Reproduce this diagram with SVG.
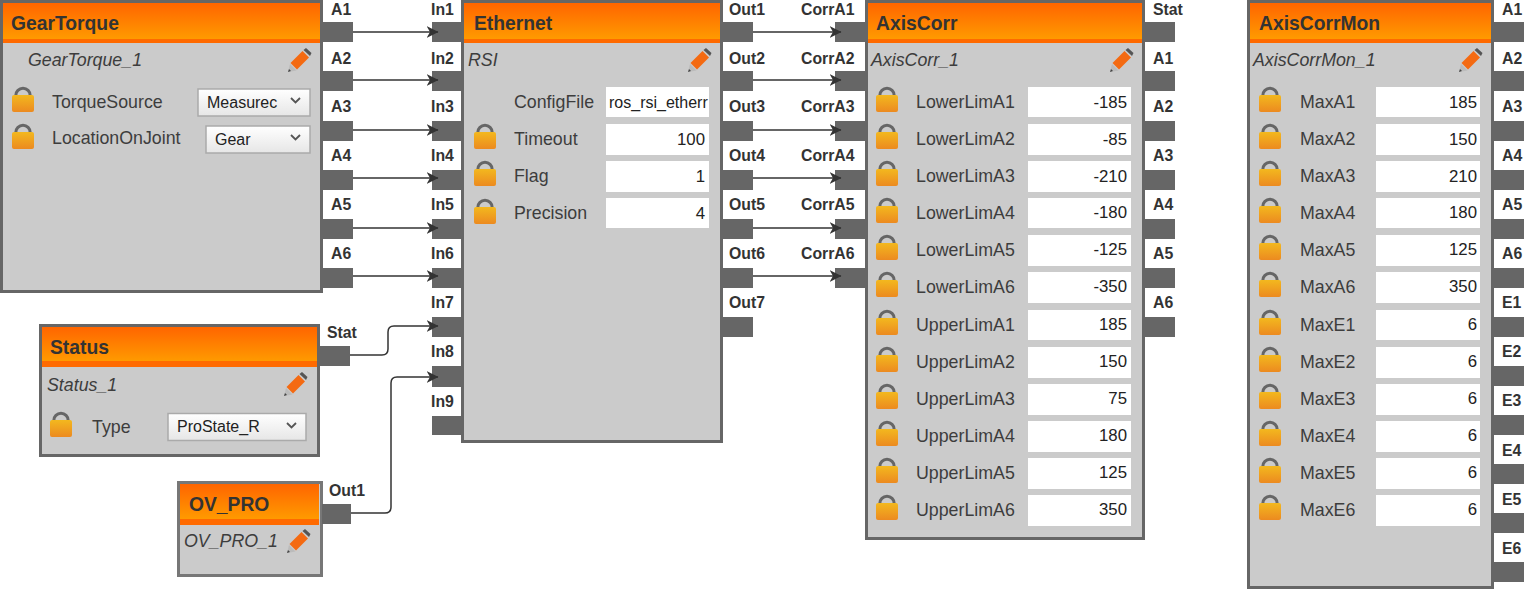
<svg xmlns="http://www.w3.org/2000/svg" xmlns:xlink="http://www.w3.org/1999/xlink" width="1524" height="590" viewBox="0 0 1524 590">
<style>
text{font-family:"Liberation Sans",Arial,sans-serif;fill:#3d3d3d}
.box{fill:#cbcbcb;stroke:#666;stroke-width:3}
.hd{fill:url(#hg)}
.st{fill:#ff6a00}
.t{font-size:19.300px;font-weight:bold;fill:#333}
.i{font-size:17.800px;font-style:italic}
.l{font-size:17.800px}
.v{font-size:16.800px;fill:#222;text-anchor:end}
.d{font-size:16px;fill:#222}
.p{fill:#666}
.pl{font-size:15.800px;font-weight:bold;fill:#333}
.f{fill:#fff}
.sel{fill:url(#sg);stroke:#aaa;stroke-width:1.500}
.c{fill:none;stroke:#333;stroke-width:1.500}
</style>
<defs>
<linearGradient id="hg" x1="0" y1="0" x2="0" y2="1"><stop offset="0" stop-color="#ff6500"/><stop offset="1" stop-color="#ff9a00"/></linearGradient>
<linearGradient id="sg" x1="0" y1="0" x2="0" y2="1"><stop offset="0" stop-color="#fff"/><stop offset="1" stop-color="#e6e6e6"/></linearGradient>
<linearGradient id="lg" x1="0" y1="0" x2="0" y2="1"><stop offset="0" stop-color="#f3b81e"/><stop offset="1" stop-color="#ec8a20"/></linearGradient>
<marker id="ah" viewBox="0 0 12 12" refX="11.500" refY="6" markerWidth="12" markerHeight="12" markerUnits="userSpaceOnUse" orient="auto"><path d="M0 0L12 6L0 12L3.500 6Z" fill="#333"/></marker>
<g id="lock"><path d="M3.800 10V8.500a7.200 7.200 0 0 1 14.400 0V10" fill="none" stroke="#666" stroke-width="3"/><rect x="0" y="8" width="22" height="17" rx="2" fill="url(#lg)"/></g>
<g id="pen"><path d="M4.500 15L16.500 3L23 9.500L11 21.500Z" fill="#f46a12"/><path d="M17.500 2L20 0L25.500 5L24 8Z" fill="#555"/><path d="M4 16L10.500 22.500L2 24Z" fill="#bbb"/><path d="M2 24L3 21L5 23Z" fill="#444"/></g>
<path id="chev" d="M0 0L4.500 4.500L9 0" fill="none" stroke="#555" stroke-width="1.800"/>
</defs>

<g id="GearTorque">
<rect class="box" x="1.500" y="1.500" width="320" height="290"/>
<rect class="hd" x="3" y="3" width="317" height="36"/><rect class="st" x="3" y="39" width="317" height="4"/>
<text class="t" x="11" y="30">GearTorque</text>
<text class="i" x="28" y="66">GearTorque_1</text>
<use xlink:href="#pen" x="286" y="48"/>
<use xlink:href="#lock" x="12" y="87"/><text class="l" x="52" y="108">TorqueSource</text>
<rect class="sel" x="198" y="89" width="112" height="27"/><text class="d" x="207" y="108">Measurec</text><use xlink:href="#chev" x="291" y="98"/>
<use xlink:href="#lock" x="12" y="124"/><text class="l" x="52" y="144">LocationOnJoint</text>
<rect class="sel" x="206" y="126" width="104" height="27"/><text class="d" x="215" y="145">Gear</text><use xlink:href="#chev" x="291" y="135"/>
<g><rect class="p" x="322" y="22" width="31" height="20"/><rect class="p" x="322" y="71" width="31" height="20"/><rect class="p" x="322" y="121" width="31" height="20"/><rect class="p" x="322" y="170" width="31" height="20"/><rect class="p" x="322" y="219" width="31" height="20"/><rect class="p" x="322" y="268" width="31" height="20"/></g>
<text class="pl" x="331" y="15">A1</text><text class="pl" x="331" y="64">A2</text><text class="pl" x="331" y="112">A3</text><text class="pl" x="331" y="161">A4</text><text class="pl" x="331" y="210">A5</text><text class="pl" x="331" y="259">A6</text>
</g>

<g id="Status">
<rect class="box" x="40.500" y="325.500" width="278" height="130"/>
<rect class="hd" x="42" y="327" width="275" height="34"/><rect class="st" x="42" y="361" width="275" height="6"/>
<text class="t" x="50" y="354">Status</text>
<text class="i" x="47" y="391">Status_1</text>
<use xlink:href="#pen" x="282" y="372"/>
<use xlink:href="#lock" x="50" y="412"/><text class="l" x="92" y="433">Type</text>
<rect class="sel" x="168" y="413.500" width="138" height="27"/><text class="d" x="177" y="432">ProState_R</text><use xlink:href="#chev" x="287" y="423"/>
<rect class="p" x="319" y="346" width="31" height="20"/>
<text class="pl" x="327" y="338">Stat</text>
</g>

<g id="OV_PRO">
<rect class="box" x="178.500" y="482.500" width="143" height="93" style="stroke:#777"/>
<rect class="hd" x="180" y="484" width="139" height="35"/><rect class="st" x="180" y="519" width="139" height="6"/>
<text class="t" x="189" y="511">OV_PRO</text>
<text class="i" x="184" y="547">OV_PRO_1</text>
<use xlink:href="#pen" x="285" y="529"/>
<rect class="p" x="322" y="504" width="29" height="20"/>
<text class="pl" x="329" y="496">Out1</text>
</g>

<g id="Ethernet">
<rect class="box" x="462.500" y="1.500" width="259" height="440"/>
<rect class="hd" x="464" y="3" width="256" height="36"/><rect class="st" x="464" y="39" width="256" height="4"/>
<text class="t" x="474" y="30">Ethernet</text>
<text class="i" x="468" y="66">RSI</text>
<use xlink:href="#pen" x="686" y="48"/>
<text class="l" x="514" y="108">ConfigFile</text>
<rect class="f" x="606" y="87" width="103" height="30"/><text class="d" x="609" y="108">ros_rsi_etherr</text>
<use xlink:href="#lock" x="474" y="124"/><text class="l" x="514" y="145">Timeout</text>
<rect class="f" x="606" y="124" width="103" height="31"/><text class="v" x="705" y="145">100</text>
<use xlink:href="#lock" x="474" y="161"/><text class="l" x="514" y="182">Flag</text>
<rect class="f" x="606" y="161" width="103" height="31"/><text class="v" x="705" y="182">1</text>
<use xlink:href="#lock" x="474" y="199"/><text class="l" x="514" y="219">Precision</text>
<rect class="f" x="606" y="198" width="103" height="30"/><text class="v" x="705" y="219">4</text>
<g><rect class="p" x="432" y="22" width="30" height="20"/><rect class="p" x="432" y="71" width="30" height="20"/><rect class="p" x="432" y="121" width="30" height="20"/><rect class="p" x="432" y="170" width="30" height="20"/><rect class="p" x="432" y="219" width="30" height="20"/><rect class="p" x="432" y="268" width="30" height="20"/><rect class="p" x="432" y="317" width="30" height="20"/><rect class="p" x="432" y="366" width="30" height="21"/><rect class="p" x="432" y="416" width="30" height="19"/></g>
<text class="pl" x="431" y="15">In1</text><text class="pl" x="431" y="64">In2</text><text class="pl" x="431" y="112">In3</text><text class="pl" x="431" y="161">In4</text><text class="pl" x="431" y="210">In5</text><text class="pl" x="431" y="259">In6</text><text class="pl" x="431" y="308">In7</text><text class="pl" x="431" y="357">In8</text><text class="pl" x="431" y="407">In9</text>
<g><rect class="p" x="722" y="22" width="31" height="20"/><rect class="p" x="722" y="71" width="31" height="20"/><rect class="p" x="722" y="121" width="31" height="20"/><rect class="p" x="722" y="170" width="31" height="20"/><rect class="p" x="722" y="219" width="31" height="20"/><rect class="p" x="722" y="268" width="31" height="20"/><rect class="p" x="722" y="317" width="31" height="20"/></g>
<text class="pl" x="729" y="15">Out1</text><text class="pl" x="729" y="64">Out2</text><text class="pl" x="729" y="112">Out3</text><text class="pl" x="729" y="161">Out4</text><text class="pl" x="729" y="210">Out5</text><text class="pl" x="729" y="259">Out6</text><text class="pl" x="729" y="308">Out7</text>
</g>

<g id="AxisCorr">
<rect class="box" x="866.500" y="1.500" width="277" height="537"/>
<rect class="hd" x="868" y="3" width="274" height="36"/><rect class="st" x="868" y="39" width="274" height="4"/>
<text class="t" x="876" y="30">AxisCorr</text>
<text class="i" x="871" y="66">AxisCorr_1</text>
<use xlink:href="#pen" x="1108" y="48"/>
<use xlink:href="#lock" x="876" y="87"/><text class="l" x="916" y="108">LowerLimA1</text><rect class="f" x="1028" y="87" width="103" height="30"/><text class="v" x="1127" y="108">-185</text>
<use xlink:href="#lock" x="876" y="124"/><text class="l" x="916" y="145">LowerLimA2</text><rect class="f" x="1028" y="124" width="103" height="31"/><text class="v" x="1127" y="145">-85</text>
<use xlink:href="#lock" x="876" y="161"/><text class="l" x="916" y="182">LowerLimA3</text><rect class="f" x="1028" y="161" width="103" height="31"/><text class="v" x="1127" y="182">-210</text>
<use xlink:href="#lock" x="876" y="198"/><text class="l" x="916" y="219">LowerLimA4</text><rect class="f" x="1028" y="198" width="103" height="30"/><text class="v" x="1127" y="218">-180</text>
<use xlink:href="#lock" x="876" y="235"/><text class="l" x="916" y="256">LowerLimA5</text><rect class="f" x="1028" y="235" width="103" height="31"/><text class="v" x="1127" y="255">-125</text>
<use xlink:href="#lock" x="876" y="272"/><text class="l" x="916" y="293">LowerLimA6</text><rect class="f" x="1028" y="272" width="103" height="31"/><text class="v" x="1127" y="292">-350</text>
<use xlink:href="#lock" x="876" y="310"/><text class="l" x="916" y="331">UpperLimA1</text><rect class="f" x="1028" y="310" width="103" height="30"/><text class="v" x="1127" y="330">185</text>
<use xlink:href="#lock" x="876" y="347"/><text class="l" x="916" y="368">UpperLimA2</text><rect class="f" x="1028" y="347" width="103" height="31"/><text class="v" x="1127" y="367">150</text>
<use xlink:href="#lock" x="876" y="384"/><text class="l" x="916" y="405">UpperLimA3</text><rect class="f" x="1028" y="384" width="103" height="31"/><text class="v" x="1127" y="404">75</text>
<use xlink:href="#lock" x="876" y="421"/><text class="l" x="916" y="442">UpperLimA4</text><rect class="f" x="1028" y="421" width="103" height="31"/><text class="v" x="1127" y="441">180</text>
<use xlink:href="#lock" x="876" y="458"/><text class="l" x="916" y="479">UpperLimA5</text><rect class="f" x="1028" y="458" width="103" height="31"/><text class="v" x="1127" y="478">125</text>
<use xlink:href="#lock" x="876" y="495"/><text class="l" x="916" y="516">UpperLimA6</text><rect class="f" x="1028" y="495" width="103" height="31"/><text class="v" x="1127" y="515">350</text>
<g><rect class="p" x="835" y="22" width="31" height="20"/><rect class="p" x="835" y="71" width="31" height="20"/><rect class="p" x="835" y="121" width="31" height="20"/><rect class="p" x="835" y="170" width="31" height="20"/><rect class="p" x="835" y="219" width="31" height="20"/><rect class="p" x="835" y="268" width="31" height="20"/></g>
<text class="pl" x="801" y="15">CorrA1</text><text class="pl" x="801" y="64">CorrA2</text><text class="pl" x="801" y="112">CorrA3</text><text class="pl" x="801" y="161">CorrA4</text><text class="pl" x="801" y="210">CorrA5</text><text class="pl" x="801" y="259">CorrA6</text>
<g><rect class="p" x="1144" y="22" width="31" height="20"/><rect class="p" x="1144" y="71" width="31" height="20"/><rect class="p" x="1144" y="121" width="31" height="20"/><rect class="p" x="1144" y="170" width="31" height="20"/><rect class="p" x="1144" y="219" width="31" height="20"/><rect class="p" x="1144" y="268" width="31" height="20"/><rect class="p" x="1144" y="317" width="31" height="20"/></g>
<text class="pl" x="1153" y="15">Stat</text><text class="pl" x="1153" y="64">A1</text><text class="pl" x="1153" y="112">A2</text><text class="pl" x="1153" y="161">A3</text><text class="pl" x="1153" y="210">A4</text><text class="pl" x="1153" y="259">A5</text><text class="pl" x="1153" y="308">A6</text>
</g>

<g id="AxisCorrMon">
<rect class="box" x="1248.500" y="1.500" width="244" height="586"/>
<rect class="hd" x="1250" y="3" width="241" height="36"/><rect class="st" x="1250" y="39" width="241" height="4"/>
<text class="t" x="1259" y="30">AxisCorrMon</text>
<text class="i" x="1253" y="66">AxisCorrMon_1</text>
<use xlink:href="#pen" x="1457" y="48"/>
<use xlink:href="#lock" x="1259" y="87"/><text class="l" x="1300" y="108">MaxA1</text><rect class="f" x="1376" y="87" width="104" height="30"/><text class="v" x="1477" y="108">185</text>
<use xlink:href="#lock" x="1259" y="124"/><text class="l" x="1300" y="145">MaxA2</text><rect class="f" x="1376" y="124" width="104" height="31"/><text class="v" x="1477" y="145">150</text>
<use xlink:href="#lock" x="1259" y="161"/><text class="l" x="1300" y="182">MaxA3</text><rect class="f" x="1376" y="161" width="104" height="31"/><text class="v" x="1477" y="182">210</text>
<use xlink:href="#lock" x="1259" y="198"/><text class="l" x="1300" y="219">MaxA4</text><rect class="f" x="1376" y="198" width="104" height="30"/><text class="v" x="1477" y="218">180</text>
<use xlink:href="#lock" x="1259" y="235"/><text class="l" x="1300" y="256">MaxA5</text><rect class="f" x="1376" y="235" width="104" height="31"/><text class="v" x="1477" y="255">125</text>
<use xlink:href="#lock" x="1259" y="272"/><text class="l" x="1300" y="293">MaxA6</text><rect class="f" x="1376" y="272" width="104" height="31"/><text class="v" x="1477" y="292">350</text>
<use xlink:href="#lock" x="1259" y="310"/><text class="l" x="1300" y="331">MaxE1</text><rect class="f" x="1376" y="310" width="104" height="30"/><text class="v" x="1477" y="330">6</text>
<use xlink:href="#lock" x="1259" y="347"/><text class="l" x="1300" y="368">MaxE2</text><rect class="f" x="1376" y="347" width="104" height="31"/><text class="v" x="1477" y="367">6</text>
<use xlink:href="#lock" x="1259" y="384"/><text class="l" x="1300" y="405">MaxE3</text><rect class="f" x="1376" y="384" width="104" height="31"/><text class="v" x="1477" y="404">6</text>
<use xlink:href="#lock" x="1259" y="421"/><text class="l" x="1300" y="442">MaxE4</text><rect class="f" x="1376" y="421" width="104" height="31"/><text class="v" x="1477" y="441">6</text>
<use xlink:href="#lock" x="1259" y="458"/><text class="l" x="1300" y="479">MaxE5</text><rect class="f" x="1376" y="458" width="104" height="31"/><text class="v" x="1477" y="478">6</text>
<use xlink:href="#lock" x="1259" y="495"/><text class="l" x="1300" y="516">MaxE6</text><rect class="f" x="1376" y="495" width="104" height="31"/><text class="v" x="1477" y="515">6</text>
<g><rect class="p" x="1493" y="22" width="31" height="20"/><rect class="p" x="1493" y="71" width="31" height="20"/><rect class="p" x="1493" y="121" width="31" height="20"/><rect class="p" x="1493" y="170" width="31" height="20"/><rect class="p" x="1493" y="219" width="31" height="20"/><rect class="p" x="1493" y="268" width="31" height="20"/><rect class="p" x="1493" y="317" width="31" height="20"/><rect class="p" x="1493" y="366" width="31" height="20"/><rect class="p" x="1493" y="415" width="31" height="20"/><rect class="p" x="1493" y="464" width="31" height="20"/><rect class="p" x="1493" y="513" width="31" height="20"/><rect class="p" x="1493" y="562" width="31" height="20"/></g>
<text class="pl" x="1502" y="15">A1</text><text class="pl" x="1502" y="64">A2</text><text class="pl" x="1502" y="112">A3</text><text class="pl" x="1502" y="161">A4</text><text class="pl" x="1502" y="210">A5</text><text class="pl" x="1502" y="259">A6</text><text class="pl" x="1502" y="308">E1</text><text class="pl" x="1502" y="357">E2</text><text class="pl" x="1502" y="406">E3</text><text class="pl" x="1502" y="456">E4</text><text class="pl" x="1502" y="505">E5</text><text class="pl" x="1502" y="554">E6</text>
</g>

<g id="connectors">
<path class="c" marker-end="url(#ah)" d="M353 32H438"/>
<path class="c" marker-end="url(#ah)" d="M353 80H438"/>
<path class="c" marker-end="url(#ah)" d="M353 130H438"/>
<path class="c" marker-end="url(#ah)" d="M353 178H438"/>
<path class="c" marker-end="url(#ah)" d="M353 228H438"/>
<path class="c" marker-end="url(#ah)" d="M353 276H438"/>
<path class="c" marker-end="url(#ah)" d="M350 355H382Q388 355 388 349V332Q388 326 394 326H438"/>
<path class="c" marker-end="url(#ah)" d="M351 513H385Q391 513 391 507V383Q391 377 397 377H438"/>
<path class="c" marker-end="url(#ah)" d="M753 32H841"/>
<path class="c" marker-end="url(#ah)" d="M753 80H841"/>
<path class="c" marker-end="url(#ah)" d="M753 130H841"/>
<path class="c" marker-end="url(#ah)" d="M753 178H841"/>
<path class="c" marker-end="url(#ah)" d="M753 228H841"/>
<path class="c" marker-end="url(#ah)" d="M753 276H841"/>
</g>
</svg>
